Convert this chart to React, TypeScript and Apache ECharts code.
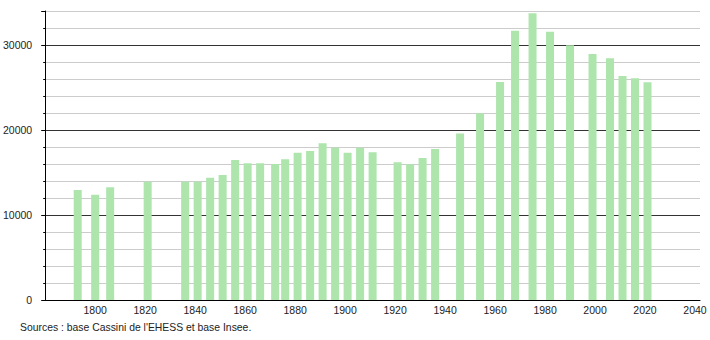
import React, { useEffect, useRef } from "react";
import * as echarts from "echarts";

const years = [1793, 1800, 1806, 1821, 1836, 1841, 1846, 1851, 1856, 1861, 1866, 1872, 1876, 1881, 1886, 1891, 1896, 1901, 1906, 1911, 1921, 1926, 1931, 1936, 1946, 1954, 1962, 1968, 1975, 1982, 1990, 1999, 2006, 2011, 2016, 2021];
const population = [12940, 12390, 13260, 13920, 13900, 13900, 14390, 14700, 16470, 16080, 16080, 16000, 16550, 17330, 17530, 18430, 17920, 17330, 17920, 17370, 16200, 15960, 16700, 17760, 19600, 21960, 25650, 31680, 33730, 31570, 29960, 28940, 28430, 26350, 26080, 25610];
const xTickLabels = [1800, 1820, 1840, 1860, 1880, 1900, 1920, 1940, 1960, 1980, 2000, 2020, 2040];
const yTickLabels = [0, 10000, 20000, 30000];
const sourceText = "Sources : base Cassini de l'EHESS et base Insee.";

const FONT = "'Liberation Sans', Arial, sans-serif";

export default function App() {
  const ref = useRef<HTMLDivElement>(null);
  useEffect(() => {
    document.body.style.margin = "0";
    const chart = echarts.init(ref.current!, null, { renderer: "svg" });
    chart.setOption({
      animation: false,
      backgroundColor: "#ffffff",
      grid: { left: 44, right: 10, top: 11, bottom: 40 },
      xAxis: {
        type: "value",
        min: 1780,
        max: 2042,
        interval: 20,
        axisLine: { show: true, lineStyle: { color: "#000", width: 1 } },
        axisTick: { show: false },
        splitLine: { show: false },
        axisLabel: {
          margin: 4,
          color: "#222",
          fontFamily: FONT,
          fontSize: 10.5,
          formatter: (v: number) => (xTickLabels.includes(v) ? String(v) : ""),
        },
      },
      yAxis: [
        {
          type: "value",
          min: 0,
          max: 34000,
          interval: 2000,
          axisLine: { show: true, lineStyle: { color: "#000", width: 1 } },
          axisTick: { show: true, length: 2, lineStyle: { color: "#000" } },
          splitLine: {
            show: true,
            lineStyle: { color: ["#333", "#cccccc", "#cccccc", "#cccccc", "#cccccc"], width: 1 },
          },
          axisLabel: { show: false },
        },
        {
          type: "value",
          position: "left",
          min: 0,
          max: 34000,
          interval: 10000,
          axisLine: { show: false },
          axisTick: { show: true, length: 4, lineStyle: { color: "#000" } },
          splitLine: { show: false },
          axisLabel: {
            margin: 13,
            color: "#222",
            fontFamily: FONT,
            fontSize: 10.5,
            formatter: (v: number) => (yTickLabels.includes(v) ? String(v) : ""),
          },
        },
      ],
      series: [
        {
          type: "bar",
          yAxisIndex: 0,
          barWidth: 8,
          itemStyle: { color: "#ade5ad" },
          data: years.map((y, i) => [y, population[i]]),
        },
      ],
      graphic: [
        {
          type: "text",
          left: 20,
          top: 322,
          style: { text: sourceText, font: `10.4px ${FONT}`, fill: "#222" },
        },
      ],
    });
    return () => chart.dispose();
  }, []);
  return <div ref={ref} style={{ width: 710, height: 340 }} />;
}
